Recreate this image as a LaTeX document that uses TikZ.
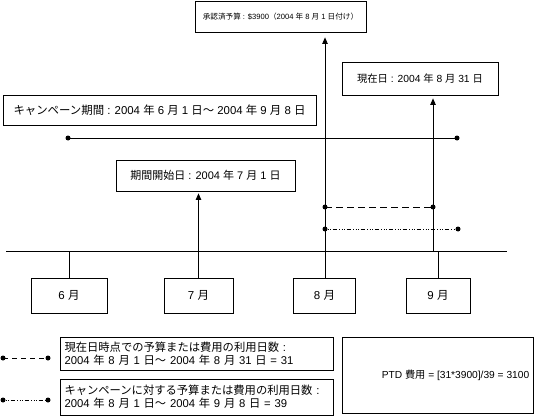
\documentclass[tikz,border=0pt]{standalone}
\usepackage{fontspec}
\setmainfont{Liberation Sans}
\newfontfamily\jp{Noto Sans CJK JP}
\newcommand\J[1]{{\jp #1}}
\usetikzlibrary{arrows.meta}
\begin{document}
\begin{tikzpicture}[x=1pt,y=-1pt,
  box/.style={draw, line width=0.8pt, inner sep=0pt, align=center},
  lbox/.style={draw, line width=0.8pt, inner ysep=0pt, inner xsep=4.5pt, align=left, text width=264pt},
  ln/.style={line width=0.8pt},
  thin/.style={line width=0.5pt},
  arr/.style={line width=0.8pt, -{Triangle[length=6.5pt,width=5.5pt]}},
  dot/.style={circle, fill, inner sep=0pt, minimum size=5pt},
  dsh/.style={line width=0.8pt, dash pattern=on 7pt off 4pt},
  dshdot/.style={line width=0.8pt, dash pattern=on 1pt off 1.5pt on 1pt off 1.5pt on 1pt off 1.5pt on 4pt off 2.5pt}
]
\useasboundingbox (0,0) rectangle (540,417);

% boxes
\node[box, minimum width=171pt, minimum height=31pt, font=\fontsize{7.6}{9}\selectfont] (budget) at (280.5,16.5)
  {\J{承認済予算} : \$3900\J{（}2004 \J{年} 8 \J{月} 1 \J{日付け）}};
\node[box, minimum width=156pt, minimum height=33pt, font=\fontsize{10.3}{12}\selectfont] (now) at (420,78.5)
  {\J{現在日} : 2004 \J{年} 8 \J{月} 31 \J{日}};
\node[box, minimum width=313pt, minimum height=30pt, font=\fontsize{11.4}{13}\selectfont] (camp) at (159.5,110)
  {\J{キャンペーン期間} : 2004 \J{年} 6 \J{月} 1 \J{日～} 2004 \J{年} 9 \J{月} 8 \J{日}};
\node[box, minimum width=179pt, minimum height=31pt, font=\fontsize{11}{13}\selectfont] (start) at (205.5,175.5)
  {\J{期間開始日} : 2004 \J{年} 7 \J{月} 1 \J{日}};

\node[box, minimum width=76pt, minimum height=35pt, font=\fontsize{11.5}{13}\selectfont] (m6) at (69,295.5) {6 \J{月}};
\node[box, minimum width=69pt, minimum height=35pt, font=\fontsize{11.5}{13}\selectfont] (m7) at (198.5,295.5) {7 \J{月}};
\node[box, minimum width=62pt, minimum height=35pt, font=\fontsize{11.5}{13}\selectfont] (m8) at (324.5,295.5) {8 \J{月}};
\node[box, minimum width=64pt, minimum height=35pt, font=\fontsize{11.5}{13}\selectfont] (m9) at (438,295.5) {9 \J{月}};

\node[lbox, minimum height=33pt, font=\fontsize{11.3}{12.8}\selectfont] (leg1) at (196.5,353.5)
  {\J{現在日時点での予算または費用の利用日数} :\\2004 \J{年} 8 \J{月} 1 \J{日～} 2004 \J{年} 8 \J{月} 31 \J{日} = 31};
\node[lbox, minimum height=36pt, font=\fontsize{11.3}{12.8}\selectfont] (leg2) at (196.5,397)
  {\J{キャンペーンに対する予算または費用の利用日数} :\\2004 \J{年} 8 \J{月} 1 \J{日～} 2004 \J{年} 9 \J{月} 8 \J{日} = 39};
\node[box, minimum width=191pt, minimum height=76pt, font=\fontsize{10.2}{12}\selectfont] (ptd) at (437.5,375)
  {\hspace*{36pt}PTD \J{費用} = [31*3900]/39 = 3100};

% timeline
\coordinate (tl) at (6,251);
\coordinate (tr) at (507,251);
\draw[ln] (tl) -- (tr);
\draw[ln] (m6.north) -- (m6.north |- tl);
\draw[thin] (m9.north) -- (m9.north |- tl);

% vertical arrows
\draw[arr, shorten >=2pt] (m7.north) -- (m7.north |- start.south);
\coordinate (v8) at (325,278);
\draw[arr, shorten >=5pt] (v8) -- (v8 |- budget.south);
\coordinate (v9) at (433,251);
\draw[arr, shorten >=3pt] (v9) -- (v9 |- now.south);

% campaign period line
\node[dot] (c1) at (68,138) {};
\node[dot] (c2) at (457,138) {};
\draw[ln] (c1.center) -- (c2.center);

% day-count lines
\node[dot] (d1) at (325,207) {};
\node[dot] (d2) at (433,207) {};
\draw[dsh] (d1.center) -- (d2.center);
\node[dot] (e1) at (325,229) {};
\node[dot] (e2) at (458,229) {};
\draw[dshdot] (e1.center) -- (e2.center);

% legend
\node[dot] (l1a) at (3,358) {};
\node[dot] (l1b) at (48,358) {};
\draw[dsh, dash pattern=on 5pt off 4pt] (l1a.center) -- (l1b.center);
\node[dot] (l2a) at (3,400) {};
\node[dot] (l2b) at (48,400) {};
\draw[dshdot] (l2a.center) -- (l2b.center);
\end{tikzpicture}
\end{document}
